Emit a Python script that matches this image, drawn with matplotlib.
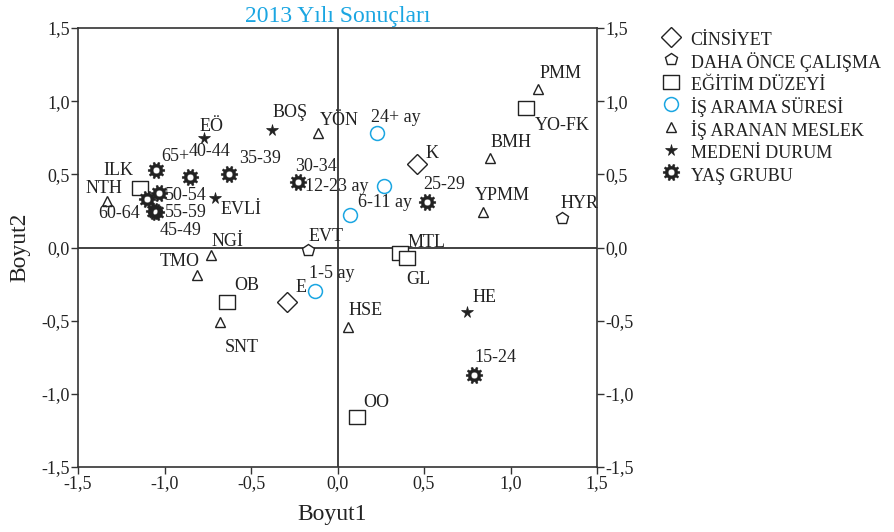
import numpy as np
import matplotlib
matplotlib.use("Agg")
import matplotlib.pyplot as plt
from matplotlib.path import Path
from matplotlib.ticker import FixedLocator, FuncFormatter

plt.rcParams['font.family'] = ['Liberation Serif', 'DejaVu Serif']
plt.rcParams['axes.unicode_minus'] = False

# --- data (Boyut1, Boyut2) per variable ---
cinsiyet_names = ["K", "E"]
cinsiyet_x = [0.46, -0.29]
cinsiyet_y = [0.57, -0.37]

calisma_names = ["HYR", "EVT"]
calisma_x = [1.30, -0.17]
calisma_y = [0.20, -0.02]

egitim_names = ["YO-FK", "ILK", "MTL", "GL", "OB", "OO"]
egitim_x = [1.09, -1.14, 0.36, 0.40, -0.64, 0.11]
egitim_y = [0.95, 0.41, -0.04, -0.07, -0.37, -1.16]

sure_names = ["24+ ay", "12-23 ay", "6-11 ay", "1-5 ay"]
sure_x = [0.23, 0.27, 0.07, -0.13]
sure_y = [0.78, 0.42, 0.22, -0.30]

meslek_names = ["PMM", "BMH", "YPMM", "YÖN", "NTH", "NGİ", "TMO", "SNT", "HSE"]
meslek_x = [1.16, 0.88, 0.84, -0.11, -1.33, -0.73, -0.81, -0.68, 0.06]
meslek_y = [1.08, 0.61, 0.24, 0.78, 0.32, -0.05, -0.19, -0.51, -0.54]

medeni_names = ["EÖ", "BOŞ", "EVLİ", "HE"]
medeni_x = [-0.77, -0.38, -0.71, 0.75]
medeni_y = [0.75, 0.80, 0.34, -0.44]

yas_names = ["65+", "40-44", "35-39", "30-34", "50-54", "60-64", "55-59",
             "45-49", "25-29", "15-24"]
yas_x = [-1.05, -0.85, -0.63, -0.23, -1.03, -1.10, -1.05, -1.06, 0.52, 0.79]
yas_y = [0.53, 0.48, 0.50, 0.45, 0.37, 0.33, 0.24, 0.25, 0.31, -0.87]

group_labels = ["CİNSİYET", "DAHA ÖNCE ÇALIŞMA", "EĞİTİM DÜZEYİ",
                "İŞ ARAMA SÜRESİ", "İŞ ARANAN MESLEK", "MEDENİ DURUM", "YAŞ GRUBU"]

ticks = [-1.5, -1.0, -0.5, 0.0, 0.5, 1.0, 1.5]

# label offsets in pixels (dx, dy), up is positive
label_offsets = {
    "K": (15, 11), "E": (14, 14), "HYR": (17, 15), "EVT": (18, 14),
    "YO-FK": (36, -17), "ILK": (-22, 17), "MTL": (27, 11), "GL": (12, -22),
    "OB": (20, 16), "OO": (20, 15), "24+ ay": (19, 16), "12-23 ay": (-47, 0),
    "6-11 ay": (35, 13), "1-5 ay": (17, 18), "PMM": (22, 16), "BMH": (21, 16),
    "YPMM": (20, 17), "YÖN": (21, 13), "NTH": (-3, 12), "NGİ": (16, 13),
    "TMO": (-18, 14), "SNT": (22, -25), "HSE": (18, 16), "EÖ": (7, 11),
    "BOŞ": (18, 18), "EVLİ": (26, -12), "HE": (17, 14), "65+": (19, 13),
    "40-44": (19, 26), "35-39": (32, 16), "30-34": (18, 15), "50-54": (26, -2),
    "60-64": (-28, -14), "55-59": (30, 0), "45-49": (26, -20), "25-29": (17, 18),
    "15-24": (21, 17),
}


def gear_marker(n=10, r_out=1.0, r_root=0.76, r_hole=0.4):
    step = 2 * np.pi / n
    outer = []
    for i in range(n):
        a = i * step
        for f, r in [(-0.3, r_root), (-0.18, r_out), (0.18, r_out), (0.3, r_root)]:
            outer.append((r * np.cos(a + f * step), r * np.sin(a + f * step)))
    outer.append(outer[0])
    t = np.linspace(0, 2 * np.pi, 25)[::-1]
    inner = [(r_hole * np.cos(v), r_hole * np.sin(v)) for v in t]
    return Path.make_compound_path(Path(outer, closed=True), Path(inner, closed=True))


rect_marker = Path([(-1.15, -1), (1.15, -1), (1.15, 1), (-1.15, 1), (-1.15, -1)], closed=True)

black = "#222222"
blue = "#1ba6e2"

groups = [
    (cinsiyet_names, cinsiyet_x, cinsiyet_y, dict(marker="D", ms=10.5, mfc="white", mec=black, mew=1.0)),
    (calisma_names, calisma_x, calisma_y, dict(marker="p", ms=9, mfc="white", mec=black, mew=1.0)),
    (egitim_names, egitim_x, egitim_y, dict(marker=rect_marker, ms=11, mfc="white", mec=black, mew=1.0)),
    (sure_names, sure_x, sure_y, dict(marker="o", ms=10, mfc="white", mec=blue, mew=1.1)),
    (meslek_names, meslek_x, meslek_y, dict(marker="^", ms=7, mfc="white", mec=black, mew=1.0)),
    (medeni_names, medeni_x, medeni_y, dict(marker="*", ms=8.5, mfc=black, mec=black, mew=0.5)),
    (yas_names, yas_x, yas_y, dict(marker=gear_marker(), ms=12, mfc=black, mec=black, mew=0.3)),
]

fig = plt.figure(figsize=(8.94, 5.32), dpi=100)
ax = fig.add_axes([78 / 894, 65 / 532, 519 / 894, 439 / 532])

ax.axhline(0, color="#333333", lw=1.3, zorder=1)
ax.axvline(0, color="#333333", lw=1.3, zorder=1)

handles = []
for (names, xs, ys, style), glabel in zip(groups, group_labels):
    h, = ax.plot(xs, ys, ls="none", label=glabel, zorder=3, **style)
    handles.append(h)
    for n, x, y in zip(names, xs, ys):
        dx, dy = label_offsets[n]
        ax.annotate(n, (x, y), xytext=(dx, dy), textcoords="offset pixels",
                    ha="center", va="center", fontsize=13, color="#222222", zorder=4)

ax.set_xlim(-1.5, 1.5)
ax.set_ylim(-1.5, 1.5)
fmt = FuncFormatter(lambda v, p: f"{v:.1f}".replace(".", ","))
ax.xaxis.set_major_locator(FixedLocator(ticks))
ax.yaxis.set_major_locator(FixedLocator(ticks))
ax.xaxis.set_major_formatter(fmt)
ax.yaxis.set_major_formatter(fmt)
ax.tick_params(direction="out", length=5, width=1, color="#333333",
               labelsize=13, labelcolor="#222222", pad=1)
ax.tick_params(axis="y", left=True, right=True, labelleft=True, labelright=True)
ax.tick_params(axis="x", top=False, bottom=True)
for s in ax.spines.values():
    s.set_color("#333333")
    s.set_linewidth(1.2)

ax.set_xlabel("Boyut1", fontsize=17, color="#222222")
ax.set_ylabel("Boyut2", fontsize=17, color="#222222")
ax.xaxis.set_label_coords(0.489, -0.085)
ax.yaxis.set_label_coords(-0.092, 0.5)
ax.set_title("2013 Yılı Sonuçları", fontsize=17, color=blue, pad=4)

fig.legend(handles=handles, loc="upper left", bbox_to_anchor=(660 / 894, 1 - 28 / 532),
           frameon=False, fontsize=13, handlelength=1.2, handletextpad=0.5,
           handleheight=1.55, labelspacing=0.0, borderpad=0, borderaxespad=0,
           labelcolor="#222222")

fig.savefig("out.png", dpi=100)
